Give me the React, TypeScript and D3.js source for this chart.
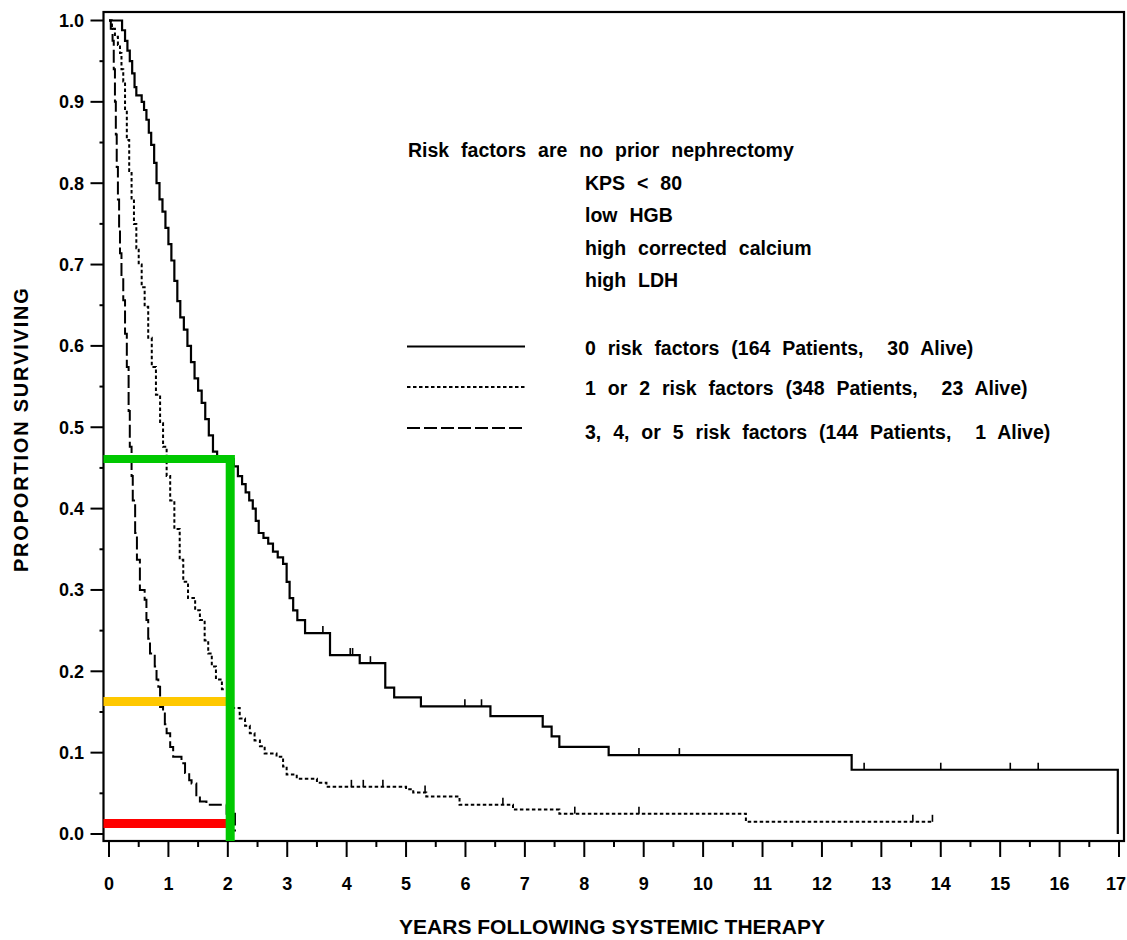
import React from 'react';
import * as d3 from 'd3';

// axis ticks
const yearTicks = d3.range(0, 18);
const yearMinor = d3.range(0.5, 17, 1);
const propTicks = d3.range(0, 11).map((i) => i / 10);
const propMinor = d3.range(0, 10).map((i) => i / 10 + 0.05);

// 0 risk factors
const zeroTimes = [0, 0.22, 0.27, 0.31, 0.35, 0.39, 0.43, 0.46, 0.55, 0.59, 0.63, 0.67, 0.71, 0.76, 0.8, 0.85, 0.9, 0.95, 1.0, 1.05, 1.1, 1.15, 1.2, 1.26, 1.32, 1.38, 1.44, 1.5, 1.56, 1.62, 1.68, 1.75, 1.82, 2.1, 2.17, 2.24, 2.3, 2.36, 2.42, 2.47, 2.52, 2.6, 2.68, 2.76, 2.84, 2.93, 2.99, 3.04, 3.1, 3.17, 3.3, 3.72, 4.22, 4.65, 4.8, 5.25, 6.42, 7.3, 7.45, 7.58, 8.41, 12.5, 16.98];
const zeroSurv = [1.0, 0.988, 0.975, 0.963, 0.95, 0.935, 0.918, 0.908, 0.9, 0.89, 0.878, 0.862, 0.847, 0.825, 0.8, 0.78, 0.765, 0.745, 0.725, 0.705, 0.68, 0.655, 0.635, 0.62, 0.6, 0.58, 0.56, 0.545, 0.53, 0.51, 0.49, 0.47, 0.461, 0.452, 0.44, 0.43, 0.42, 0.41, 0.4, 0.385, 0.37, 0.364, 0.357, 0.347, 0.34, 0.332, 0.31, 0.29, 0.275, 0.263, 0.247, 0.22, 0.21, 0.18, 0.168, 0.157, 0.145, 0.132, 0.12, 0.107, 0.097, 0.079, 0.0];
const zeroCensored = [3.6, 4.06, 4.1, 4.4, 5.99, 6.27, 8.92, 9.6, 12.71, 14.0, 15.17, 15.64];

// 1 or 2 risk factors
const midTimes = [0, 0.05, 0.1, 0.15, 0.185, 0.21, 0.24, 0.27, 0.3, 0.34, 0.38, 0.42, 0.46, 0.5, 0.55, 0.6, 0.66, 0.72, 0.79, 0.86, 0.91, 0.97, 1.03, 1.1, 1.19, 1.25, 1.33, 1.45, 1.53, 1.61, 1.67, 1.73, 1.8, 1.9, 2.0, 2.08, 2.2, 2.29, 2.37, 2.45, 2.54, 2.62, 2.82, 2.93, 2.99, 3.16, 3.5, 3.66, 5.0, 5.12, 5.34, 5.9, 6.8, 7.58, 10.72, 13.86];
const midSurv = [1.0, 0.99, 0.98, 0.97, 0.96, 0.94, 0.925, 0.89, 0.853, 0.815, 0.78, 0.75, 0.72, 0.7, 0.672, 0.648, 0.61, 0.574, 0.54, 0.505, 0.476, 0.44, 0.41, 0.375, 0.337, 0.31, 0.29, 0.275, 0.263, 0.238, 0.222, 0.206, 0.19, 0.178, 0.168, 0.155, 0.142, 0.133, 0.124, 0.115, 0.108, 0.099, 0.095, 0.083, 0.073, 0.068, 0.063, 0.058, 0.055, 0.051, 0.046, 0.036, 0.03, 0.025, 0.015, 0.015];
const midCensored = [4.08, 4.28, 4.61, 5.32, 6.63, 7.84, 8.92, 13.53, 13.86];

// 3, 4, or 5 risk factors
const highTimes = [0, 0.03, 0.06, 0.08, 0.1, 0.115, 0.13, 0.15, 0.17, 0.185, 0.21, 0.24, 0.27, 0.3, 0.33, 0.35, 0.38, 0.4, 0.44, 0.47, 0.52, 0.6, 0.63, 0.66, 0.69, 0.77, 0.8, 0.83, 0.86, 0.91, 0.94, 0.97, 1.03, 1.08, 1.22, 1.28, 1.35, 1.39, 1.47, 1.53, 1.64, 1.98, 2.12];
const highSurv = [1.0, 0.99, 0.975, 0.94, 0.9, 0.86, 0.82, 0.78, 0.745, 0.714, 0.685, 0.656, 0.615, 0.574, 0.52, 0.476, 0.44, 0.41, 0.37, 0.337, 0.3, 0.288, 0.263, 0.24, 0.222, 0.206, 0.19, 0.181, 0.156, 0.148, 0.135, 0.124, 0.107, 0.095, 0.087, 0.075, 0.066, 0.062, 0.046, 0.04, 0.036, 0.025, 0.003];

// two-year read-offs drawn over the chart
const markYear = 2.04;
const markLevels = [0.461, 0.163, 0.013];
const markColors = ['#00c800', '#ffc800', '#ff0000'];

const legendNote = ['Risk factors are no prior nephrectomy', 'KPS < 80', 'low HGB', 'high corrected calcium', 'high LDH'];
const legendLabels = [
  '0 risk factors (164 Patients,  30 Alive)',
  '1 or 2 risk factors (348 Patients,  23 Alive)',
  '3, 4, or 5 risk factors (144 Patients,  1 Alive)',
];

const W = 1127;
const H = 940;
const frame = { left: 103.5, right: 1124, top: 12, bottom: 841 };
const font = '"Liberation Sans", Arial, Helvetica, sans-serif';

const x = d3.scaleLinear().domain([0, 17]).range([109, 1119]);
const y = d3.scaleLinear().domain([0, 1]).range([834, 20.5]);

const stepLine = d3
  .line<[number, number]>()
  .x((d) => x(d[0]))
  .y((d) => y(d[1]))
  .curve(d3.curveStepAfter);

const pairs = (t: number[], s: number[]) => t.map((v, i) => [v, s[i]] as [number, number]);

const survAt = (t: number[], s: number[], time: number) => {
  const i = d3.bisectRight(t, time) - 1;
  return s[Math.max(0, i)];
};

const series = [
  { times: zeroTimes, surv: zeroSurv, censored: zeroCensored, dash: undefined, width: 2.2 },
  { times: midTimes, surv: midSurv, censored: midCensored, dash: '3.5,2.5', width: 2 },
  { times: highTimes, surv: highSurv, censored: [] as number[], dash: '13,4', width: 2 },
];

export default function App() {
  return (
    <svg width={W} height={H} style={{ position: 'absolute', left: 0, top: 0, background: '#fff' }} fontFamily={font} fontWeight="bold">
      <rect x={frame.left} y={frame.top} width={frame.right - frame.left} height={frame.bottom - frame.top} fill="none" stroke="#000" strokeWidth={2.2} />

      {/* y axis */}
      {propTicks.map((v) => (
        <g key={'y' + v}>
          <line x1={frame.left - 13} x2={frame.left} y1={y(v)} y2={y(v)} stroke="#000" strokeWidth={2} />
          <text x={84} y={y(v)} dy="0.35em" textAnchor="end" fontSize={18}>
            {v.toFixed(1)}
          </text>
        </g>
      ))}
      {propMinor.map((v) => (
        <line key={'ym' + v} x1={frame.left - 4} x2={frame.left} y1={y(v)} y2={y(v)} stroke="#000" strokeWidth={2} />
      ))}
      <text transform={`translate(28,${(y(0) + y(1)) / 2 + 2}) rotate(-90)`} textAnchor="middle" fontSize={20} letterSpacing={1.8}>
        PROPORTION SURVIVING
      </text>

      {/* x axis */}
      {yearTicks.map((v) => (
        <g key={'x' + v}>
          <line x1={x(v)} x2={x(v)} y1={frame.bottom} y2={frame.bottom + 16} stroke="#000" strokeWidth={2} />
          <text x={Math.min(x(v), W - 11)} y={884} dy="0.35em" textAnchor="middle" fontSize={18}>
            {v}
          </text>
        </g>
      ))}
      {yearMinor.map((v) => (
        <line key={'xm' + v} x1={x(v)} x2={x(v)} y1={frame.bottom} y2={frame.bottom + 6} stroke="#000" strokeWidth={2} />
      ))}
      <text x={612} y={927} dy="0.35em" textAnchor="middle" fontSize={21}>
        YEARS FOLLOWING SYSTEMIC THERAPY
      </text>

      {/* curves */}
      {series.map((s, i) => (
        <g key={'s' + i}>
          <path d={stepLine(pairs(s.times, s.surv)) || ''} fill="none" stroke="#000" strokeWidth={s.width} strokeDasharray={s.dash} />
          {s.censored.map((c) => {
            const v = survAt(s.times, s.surv, c);
            return <line key={c} x1={x(c)} x2={x(c)} y1={y(v)} y2={y(v) - 7} stroke="#000" strokeWidth={1.6} />;
          })}
        </g>
      ))}

      {/* legend */}
      <g fontSize={19.5} style={{ wordSpacing: '6.5px' }}>
        <text x={408} y={157} xmlSpace="preserve">{legendNote[0]}</text>
        {legendNote.slice(1).map((t, i) => (
          <text key={t} x={585} y={190 + i * 32.3} xmlSpace="preserve">
            {t}
          </text>
        ))}
        {legendLabels.map((t, i) => (
          <g key={t}>
            <line x1={407} x2={525} y1={[346.5, 387, 428][i]} y2={[346.5, 387, 428][i]} stroke="#000" strokeWidth={2} strokeDasharray={series[i].dash} />
            <text x={585} y={[355, 395, 439][i]} xmlSpace="preserve">{t}</text>
          </g>
        ))}
      </g>

      {/* two-year markers */}
      {markLevels.map((v, i) => (
        <line key={'m' + i} x1={frame.left} x2={x(markYear) + (i === 0 ? 4.5 : -2)} y1={y(v)} y2={y(v)} stroke={markColors[i]} strokeWidth={i === 0 ? 8 : 9} />
      ))}
      <line x1={x(markYear)} x2={x(markYear)} y1={y(markLevels[0]) - 4} y2={frame.bottom} stroke={markColors[0]} strokeWidth={9} />
    </svg>
  );
}
